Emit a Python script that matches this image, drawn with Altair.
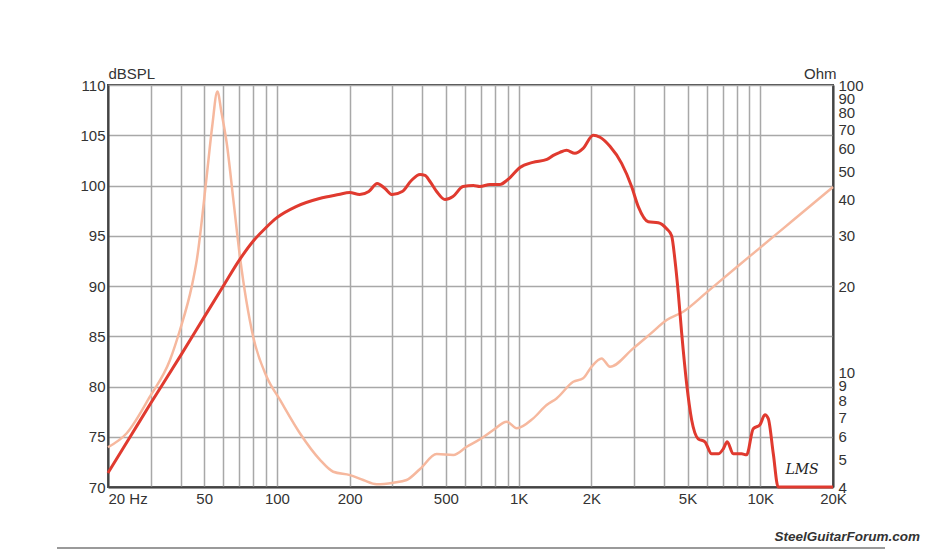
import altair as alt
import pandas as pd

# SPL response (Hz, dB)
spl_freq = [20, 25, 30, 40, 50, 60, 70, 80, 90, 100, 120, 150, 180, 200, 220, 240, 260, 280, 300,
            330, 360, 391, 410, 430, 458, 496, 535, 589, 650, 692, 761, 837, 903, 1013, 1146, 1310,
            1392, 1483, 1580, 1710, 1850, 2036, 2172, 2388, 2669, 2935, 3128, 3439, 3783, 4100,
            4298, 4436, 4580, 4730, 4958, 5200, 5534, 5902, 6292, 6705, 7032, 7298, 7727, 8372,
            8779, 9354, 9974, 10454, 10796, 11324, 11860, 20000]
spl_db = [71.4, 75.2, 78.3, 83.1, 86.9, 90.0, 92.6, 94.5, 95.8, 96.8, 97.9, 98.7, 99.1, 99.3, 99.1,
          99.4, 100.2, 99.7, 99.1, 99.4, 100.5, 101.1, 101.0, 100.4, 99.4, 98.6, 98.9, 99.9, 100.0,
          99.9, 100.1, 100.1, 100.6, 101.8, 102.3, 102.6, 103.0, 103.3, 103.5, 103.2, 103.7, 105.0,
          104.8, 103.9, 102.2, 99.9, 97.9, 96.4, 96.3, 95.7, 95.0, 92.6, 89.3, 85.3, 80.3, 76.7,
          74.8, 74.5, 73.3, 73.3, 73.8, 74.5, 73.3, 73.3, 73.2, 75.8, 76.2, 77.2, 76.8, 73.3, 70.0,
          70.0]

# Impedance (Hz, Ohm)
imp_freq = [20, 23.9, 29.8, 36.1, 39.7, 44.4, 46.6, 51.2, 54, 56.7, 59, 62, 66, 70.3, 79.8, 90.7,
            103, 124.5, 150.8, 171, 200.6, 227.6, 258.6, 303, 344, 391, 458, 537, 610, 692, 786,
            893, 982, 1150, 1306, 1436, 1684, 1850, 2004, 2206, 2388, 2980, 3500, 4100, 4798,
            6000, 8000, 10000, 12500, 16000, 20000]
imp_ohm = [5.5, 6.15, 8.24, 11.06, 14.06, 19.9, 24.6, 48.0, 72.0, 95.0, 80.0, 62.7, 40.0, 25.3,
           13.3, 9.67, 8.03, 6.15, 4.97, 4.52, 4.40, 4.23, 4.09, 4.14, 4.23, 4.62, 5.21, 5.17,
           5.52, 5.86, 6.31, 6.75, 6.40, 6.93, 7.71, 8.13, 9.29, 9.55, 10.48, 11.2, 10.48, 12.14,
           13.6, 15.23, 16.28, 19.0, 23.3, 27.2, 31.8, 37.8, 44.2]

x_grid = [20, 30, 40, 50, 60, 70, 80, 90, 100, 200, 300, 400, 500, 600, 700, 800, 900,
          1000, 2000, 3000, 4000, 5000, 6000, 7000, 8000, 9000, 10000, 20000]
x_label_values = [20, 50, 100, 200, 500, 1000, 2000, 5000, 10000, 20000]
x_label_texts = ["20  Hz", "50", "100", "200", "500", "1K", "2K", "5K", "10K", "20K"]
db_ticks = [70, 75, 80, 85, 90, 95, 100, 105, 110]
ohm_ticks = [4, 5, 6, 7, 8, 9, 10, 20, 30, 40, 50, 60, 70, 80, 90, 100]

spl_df = pd.DataFrame({"freq": spl_freq, "db": spl_db})
imp_df = pd.DataFrame({"freq": imp_freq, "ohm": imp_ohm})

label_expr = "".join(
    f"datum.value == {v} ? '{t}' : " for v, t in zip(x_label_values, x_label_texts)
) + "''"

FONT = "Liberation Sans"
TXT = "#333333"

x_enc = alt.X(
    "freq:Q",
    scale=alt.Scale(type="log", domain=[20, 20000], nice=False),
    axis=alt.Axis(
        values=x_grid,
        labelExpr=label_expr,
        title=None,
        grid=True,
        labelPadding=4,
        labelOverlap=False,
        labelAlign={"condition": {"test": "datum.value == 20", "value": "left"}, "value": "center"},
    ),
)

imp_line = alt.Chart(imp_df).mark_line(color="#f6b89e", strokeWidth=2.5, interpolate="monotone").encode(
    x=x_enc,
    y=alt.Y(
        "ohm:Q",
        scale=alt.Scale(type="log", domain=[4, 100], nice=False),
        axis=alt.Axis(
            orient="right",
            values=ohm_ticks,
            format="d",
            grid=False,
            title="Ohm",
            titleAngle=0,
            titleAlign="right",
            titleX=3,
            titleY=-12,
            titleBaseline="middle",
            labelOverlap=False,
            labelPadding=5,
        ),
    ),
)

spl_line = alt.Chart(spl_df).mark_line(color="#e03a2f", strokeWidth=3, interpolate="monotone").encode(
    x=x_enc,
    y=alt.Y(
        "db:Q",
        scale=alt.Scale(domain=[70, 110], nice=False),
        axis=alt.Axis(
            values=db_ticks,
            grid=True,
            title="dBSPL",
            titleAngle=0,
            titleAlign="left",
            titleX=0,
            titleY=-12,
            titleBaseline="middle",
            labelPadding=3,
        ),
    ),
)

footer_rule = alt.Chart(pd.DataFrame({"a": [0]})).mark_rule(color="#9a9a9a", strokeWidth=2).encode(
    x=alt.value(-51), x2=alt.value(777), y=alt.value(463)
)
footer_text = alt.Chart(pd.DataFrame({"a": [0]})).mark_text(
    text="SteelGuitarForum.com", font=FONT, fontSize=13.5, fontWeight="bold", fontStyle="italic",
    color="#333333", align="right", baseline="middle"
).encode(x=alt.value(812), y=alt.value(452))
lms_text = alt.Chart(pd.DataFrame({"a": [0]})).mark_text(
    text="LMS", font="DejaVu Serif", fontSize=14, fontStyle="italic", color="#222222",
    align="center", baseline="middle"
).encode(x=alt.value(694), y=alt.value(385))

chart = (
    alt.layer(imp_line, spl_line, footer_rule, footer_text, lms_text)
    .resolve_scale(y="independent")
    .properties(
        width=725,
        height=402,
        padding={"left": 100, "top": 77, "right": 90, "bottom": 65},
        autosize=alt.AutoSizeParams(type="none"),
        background="white",
    )
    .configure_view(stroke="#444444", strokeWidth=2)
    .configure_axis(
        domainColor="#444444",
        domainWidth=2,
        gridColor="#a8a8a8",
        gridWidth=1.5,
        ticks=False,
        labelFont=FONT,
        labelFontSize=15,
        labelColor=TXT,
        titleFont=FONT,
        titleFontSize=15,
        titleFontWeight="normal",
        titleColor=TXT,
    )
)

chart.save("out.html", embed_options={"renderer": "svg", "actions": False})
